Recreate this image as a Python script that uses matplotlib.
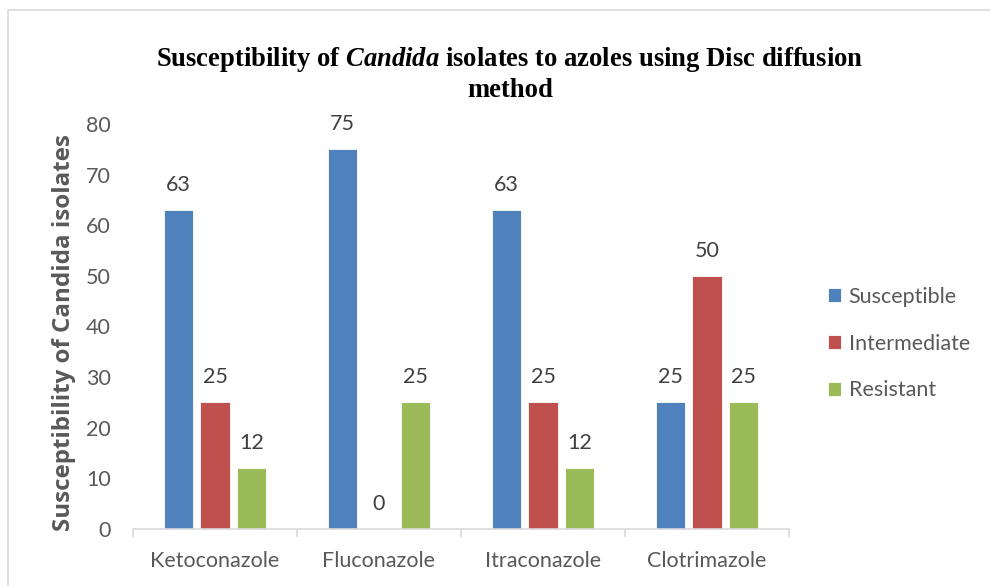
import matplotlib
matplotlib.use("Agg")
import matplotlib.pyplot as plt
import numpy as np
from matplotlib.patches import Rectangle

categories = ["Ketoconazole", "Fluconazole", "Itraconazole", "Clotrimazole"]
series_names = ["Susceptible", "Intermediate", "Resistant"]
susceptible = [63, 75, 63, 25]
intermediate = [25, 0, 25, 50]
resistant = [12, 25, 12, 25]
yticks = [0, 10, 20, 30, 40, 50, 60, 70, 80]

plt.rcParams["mathtext.fontset"] = "custom"
plt.rcParams["mathtext.it"] = "Liberation Serif:italic:bold"
plt.rcParams["mathtext.rm"] = "Liberation Serif:bold"
plt.rcParams["mathtext.bf"] = "Liberation Serif:bold"

colors = ["#4F81BD", "#C0504D", "#9BBB59"]
sans = ["Lato", "DejaVu Sans"]
fs = 15.5

fig = plt.figure(figsize=(9.9, 5.86), dpi=100)
ax = fig.add_axes([133/990, 1-529/586, (789-133)/990, (529-124)/586])

x = np.arange(len(categories))
bw = 0.177
step = 0.222
data = [susceptible, intermediate, resistant]
for i, (vals, name, c) in enumerate(zip(data, series_names, colors)):
    pos = x + (i-1)*step
    ax.bar(pos, vals, width=bw, color=c, label=name, edgecolor="white", linewidth=0.6)
    for p, v in zip(pos, vals):
        ax.annotate(str(v), (p, v), xytext=(0, 18.0), textcoords="offset points",
                    ha="center", va="center", fontsize=fs, color="#404040", family=sans)

ax.set_xlim(-0.5, len(categories)-0.5)
ax.set_ylim(0, 80)
ax.set_yticks(yticks)
ax.set_yticklabels([str(t) for t in yticks], fontsize=fs, color="#595959", family=sans)
ax.set_xticks(x)
ax.set_xticklabels(categories, fontsize=fs, color="#595959", family=sans)
ax.set_xticks(np.arange(-0.5, len(categories)), minor=True)
ax.tick_params(axis="x", which="major", length=0, pad=16)
ax.tick_params(axis="x", which="minor", length=6, color="#D9D9D9", width=1.2, direction="out")
ax.tick_params(axis="y", length=0, pad=16)
for s in ["top", "right", "left"]:
    ax.spines[s].set_visible(False)
ax.spines["bottom"].set_color("#D9D9D9")
ax.spines["bottom"].set_linewidth(1.2)

ax.set_ylabel("Susceptibility of Candida isolates", fontsize=17.4, fontweight="bold",
              color="#595959", family=["Open Sans", "DejaVu Sans"], labelpad=6)
ax.yaxis.set_label_coords(-0.0865, 0.485)

leg = ax.legend(loc="center left", bbox_to_anchor=(1.03, 0.458), frameon=False,
                prop={"family": "Lato", "size": fs}, labelspacing=1.25,
                handlelength=0.6, handleheight=0.6, handletextpad=0.35)
for t in leg.get_texts():
    t.set_color("#595959")

fig.text(0.515, 1-59/586, r"Susceptibility of $\mathit{Candida}$ isolates to azoles using Disc diffusion",
         ha="center", va="center", fontsize=19.2, fontweight="bold", family="Liberation Serif")
fig.text(0.515, 1-90/586, "method", ha="center", va="center", fontsize=19.2,
         fontweight="bold", family="Liberation Serif")

fig.patches.append(Rectangle((8/990, -0.02), 1.0, 1-10/586+0.02, transform=fig.transFigure,
                             fill=False, edgecolor="#D9D9D9", linewidth=1.2))

fig.savefig("out.png", dpi=100, facecolor="white")
